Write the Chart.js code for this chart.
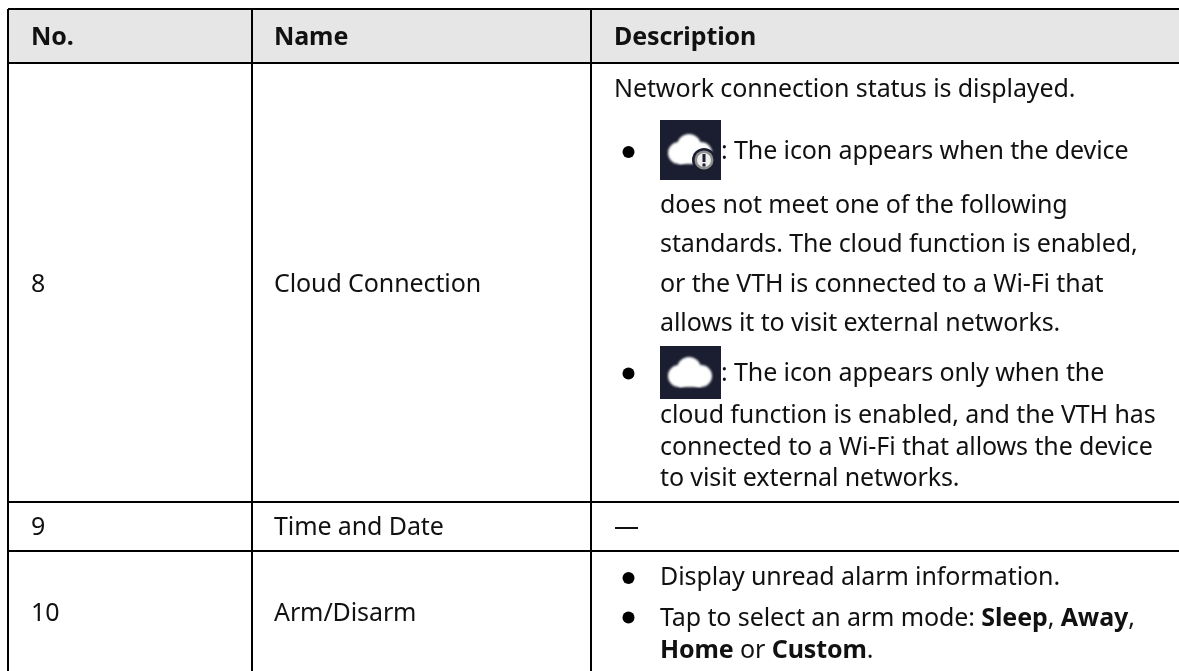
<!DOCTYPE html>
<html>
<head>
<meta charset="utf-8">
<style>
  html, body { margin: 0; padding: 0; background: #fff; overflow: hidden; }
  canvas { display: block; }
</style>
<script src="https://cdn.jsdelivr.net/npm/chart.js@4"></script>
</head>
<body>
<canvas id="tableChart" width="1179" height="671"></canvas>
<script>
  const headers = ['No.', 'Name', 'Description'];
  const rowNumbers = ['8', '9', '10'];
  const rowNames = ['Cloud Connection', 'Time and Date', 'Arm/Disarm'];
  const descriptionLines = [
    [['Network connection status is displayed.', 0]],
    [[': The icon appears when the device', 0]],
    [['does not meet one of the following', 0]],
    [['standards. The cloud function is enabled,', 0]],
    [['or the VTH is connected to a Wi-Fi that', 0]],
    [['allows it to visit external networks.', 0]],
    [[': The icon appears only when the', 0]],
    [['cloud function is enabled, and the VTH has', 0]],
    [['connected to a Wi-Fi that allows the device', 0]],
    [['to visit external networks.', 0]],
    [['—', 0]],
    [['Display unread alarm information.', 0]],
    [['Tap to select an arm mode: ', 0], ['Sleep', 1], [', ', 0], ['Away', 1], [',', 0]],
    [['Home', 1], [' or ', 0], ['Custom', 1], ['.', 0]]
  ];

  // table rules, used as axis ticks
  const columnEdges = [8, 252, 591];
  const rowEdges = [9, 63.5, 502, 551];

  // layout of the text in axis units
  const columnTextX = [31, 274, 614];
  const headerBaseline = 45;
  const rowBaselines = [292, 535, 620.5];
  const descriptionX = [614, 721, 660, 660, 660, 660, 721, 660, 660, 660, 614, 660, 660, 660];
  const descriptionBaselines = [97, 159, 213, 252, 291.5, 331, 381, 423, 454.5, 486, 535, 585, 626, 658];
  const bulletPoints = [
    { x: 628.5, y: 152 }, { x: 628.5, y: 373.5 }, { x: 628.5, y: 578 }, { x: 628.5, y: 617.5 }
  ];
  const iconPoints = [{ x: 690.5, y: 150 }];
  const plainIconPoints = [{ x: 690.5, y: 372.5 }];

  function makeIcon(h, dy, withBadge) {
    const c = document.createElement('canvas');
    c.width = 61; c.height = h;
    const g = c.getContext('2d');
    g.fillStyle = '#1b1e30';
    g.fillRect(0, 0, 61, h);
    g.filter = 'blur(1.2px)';
    g.fillStyle = '#fff';
    g.beginPath();
    g.arc(19, 30 + dy, 11, 0, Math.PI * 2);
    g.arc(29, 23 + dy, 12, 0, Math.PI * 2);
    g.arc(41, 30 + dy, 11, 0, Math.PI * 2);
    g.fill();
    g.fillRect(19, 26 + dy, 22, 15);
    if (withBadge) {
      g.filter = 'blur(0.6px)';
      g.fillStyle = '#1b1e30';
      g.beginPath(); g.arc(44, 40, 12, 0, Math.PI * 2); g.fill();
      g.fillStyle = '#8f8f8f';
      g.beginPath(); g.arc(44, 40, 9.5, 0, Math.PI * 2); g.fill();
      g.fillStyle = '#eeeeee';
      g.beginPath(); g.arc(44, 40, 7, 0, Math.PI * 2); g.fill();
      g.fillStyle = '#1b1e30';
      g.fillRect(42.5, 34, 3, 8);
      g.fillRect(42.5, 43.5, 3, 3);
    }
    return c;
  }

  const FONT = '"Noto Sans"';
  const SIZE = 25;

  function drawRuns(ctx, runs, x, y) {
    runs.forEach(function (run) {
      ctx.font = (run[1] ? 'bold ' : '') + SIZE + 'px ' + FONT;
      ctx.fillText(run[0], x, y);
      x += ctx.measureText(run[0]).width;
    });
  }

  const tableText = {
    id: 'tableText',
    beforeDraw(chart) {
      const { ctx, scales: { x, y }, chartArea } = chart;
      const top = y.getPixelForValue(rowEdges[0]);
      const left = x.getPixelForValue(columnEdges[0]);
      ctx.save();
      ctx.fillStyle = '#e6e6e6';
      ctx.fillRect(left, top, chartArea.right - left, y.getPixelForValue(rowEdges[1]) - top);
      ctx.restore();
    },
    afterDatasetsDraw(chart) {
      const { ctx, scales: { x, y } } = chart;
      ctx.save();
      ctx.fillStyle = '#111';
      ctx.textBaseline = 'alphabetic';
      ctx.letterSpacing = '-0.1px';
      headers.forEach(function (h, i) {
        drawRuns(ctx, [[h, 1]], x.getPixelForValue(columnTextX[i]), y.getPixelForValue(headerBaseline));
      });
      rowNumbers.forEach(function (n, i) {
        drawRuns(ctx, [[n, 0]], x.getPixelForValue(columnTextX[0]), y.getPixelForValue(rowBaselines[i]));
        drawRuns(ctx, [[rowNames[i], 0]], x.getPixelForValue(columnTextX[1]), y.getPixelForValue(rowBaselines[i]));
      });
      descriptionLines.forEach(function (runs, i) {
        drawRuns(ctx, runs, x.getPixelForValue(descriptionX[i]), y.getPixelForValue(descriptionBaselines[i]));
      });
      ctx.restore();
    }
  };

  new Chart(document.getElementById('tableChart'), {
    type: 'scatter',
    data: {
      datasets: [
        { data: bulletPoints, pointRadius: 6, backgroundColor: '#000', borderWidth: 0 },
        { data: iconPoints, pointStyle: makeIcon(60, 3, true) },
        { data: plainIconPoints, pointStyle: makeIcon(53, 0, false) }
      ]
    },
    options: {
      responsive: false,
      animation: false,
      layout: { padding: { left: 8, top: 9 }, autoPadding: false },
      plugins: { legend: { display: false }, tooltip: { enabled: false } },
      scales: {
        x: {
          type: 'linear', min: 8, max: 1179,
          afterBuildTicks: function (axis) { axis.ticks = columnEdges.map(function (v) { return { value: v }; }); },
          ticks: { display: false },
          border: { display: false },
          grid: { color: '#000', lineWidth: 2, drawTicks: false, tickLength: 0 }
        },
        y: {
          type: 'linear', min: 9, max: 671, reverse: true,
          afterBuildTicks: function (axis) { axis.ticks = rowEdges.map(function (v) { return { value: v }; }); },
          ticks: { display: false },
          border: { display: false },
          grid: { color: '#000', lineWidth: 2, drawTicks: false, tickLength: 0 }
        }
      }
    },
    plugins: [tableText]
  });
</script>
</body>
</html>
